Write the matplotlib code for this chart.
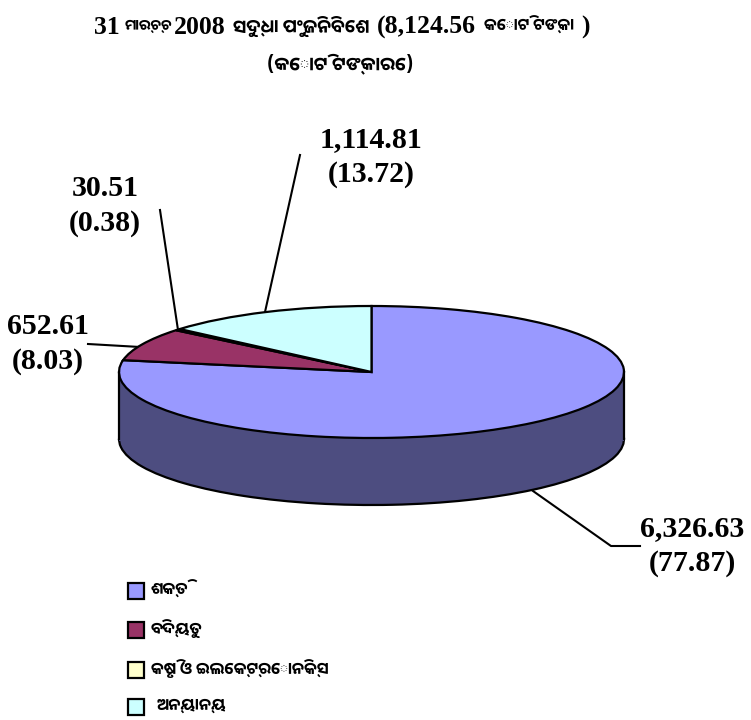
import matplotlib
matplotlib.use('Agg')
import matplotlib.pyplot as plt
from matplotlib.patches import Rectangle

sectors = ['ଶକ୍ତି', 'ବିଦ୍ୟୁତ', 'କୃଷି ଓ ଇଲେକ୍ଟ୍ରୋନିକ୍ସ', 'ଅନ୍ୟାନ୍ୟ']
amounts = [6326.63, 652.61, 30.51, 1114.81]
shares = [77.87, 8.03, 0.38, 13.72]
colors = ['#9999FF', '#993366', '#FFFFCC', '#CCFFFF']
side_colors = ['#4D4D80', '#4D1A33', '#808066', '#668080']

W, H = 751, 720
SERIF = ['Liberation Serif', 'DejaVu Serif']
ODIA = ['Noto Sans Oriya UI', 'Noto Sans Oriya', 'DejaVu Sans']

fig = plt.figure(figsize=(W / 100, H / 100), dpi=100)

# page axes in pixels, for texts and leader lines
page = fig.add_axes([0, 0, 1, 1])
page.set_xlim(0, W)
page.set_ylim(H, 0)
page.axis('off')

# pie axes: ellipse spans x 119-624, y 306-438, side goes down to 505
top, bottom = 306, 512
pie_ax = fig.add_axes([119 / W, 1 - bottom / H, 505 / W, (bottom - top) / H])
ry = 66.0
depth = 67 / ry
edge = dict(edgecolor='black', linewidth=1.6)

pie_ax.pie(amounts, colors=side_colors, startangle=90, counterclock=False,
           center=(0, -depth), radius=1, wedgeprops=edge)
pie_ax.add_patch(Rectangle((-1, -depth - 0.03), 2, depth + 0.03, facecolor=side_colors[0], edgecolor='none'))
pie_ax.plot([-1, -1], [0, -depth], color='black', lw=1.6)
pie_ax.plot([1, 1], [0, -depth], color='black', lw=1.6)
pie_ax.pie(amounts, colors=colors, startangle=90, counterclock=False,
           center=(0, 0), radius=1, wedgeprops=edge)
pie_ax.set_aspect('auto')
pie_ax.set_xlim(-1, 1)
pie_ax.set_ylim(1 - (bottom - top) / ry, 1)
for art in pie_ax.get_children():
    art.set_clip_on(False)

# title, pieces of serif bold and Odia (x, text, font size, is number)
title_bits = [
    (94, '31', 18.5, True), (125, 'ମାର୍ଚ୍ଚ', 10.5, False), (174, '2008', 18.5, True),
    (233, 'ସୁଦ୍ଧା ପୁଂଜିନିବେଶ', 13, False), (377, '(8,124.56', 18.5, True),
    (484, 'କୋଟି ଟଙ୍କା', 11.5, False), (581, ')', 18.5, True),
]
for x, s, size, is_num in title_bits:
    page.text(x, 27, s, family=SERIF if is_num else ODIA, weight='bold', fontsize=size, va='center', ha='left')
page.text(340, 65, '(କୋଟି ଟଙ୍କାରେ)', family=ODIA, weight='bold', fontsize=13.5, va='center', ha='center')

# data labels and leader lines
label_pos = [(692, 546), (48, 344), (105, 206), (371, 157)]
leaders = [
    [(533, 491), (611, 546), (640, 546)],
    [(88, 344), (140, 347)],
    [(160, 210), (178, 330)],
    [(300, 155), (265, 312)],
]
for (x, y), amt, pct, pts in zip(label_pos, amounts, shares, leaders):
    page.text(x, y, '{:,.2f}\n({:.2f})'.format(amt, pct), family=SERIF, weight='bold',
              fontsize=21.5, ha='center', va='center', linespacing=1.4)
    page.plot([p[0] for p in pts], [p[1] for p in pts], color='black', lw=1.5)

# legend
legend_y = [591, 630, 670, 707]
legend_x = [151, 151, 151, 157]
for name, col, y, x in zip(sectors, colors, legend_y, legend_x):
    page.add_patch(Rectangle((128, y - 8), 16, 16, facecolor=col, edgecolor='black', lw=1.6))
    page.text(x, y, name, family=ODIA, weight='bold', fontsize=11.5, va='center', ha='left')

fig.savefig('out.png', dpi=100)
